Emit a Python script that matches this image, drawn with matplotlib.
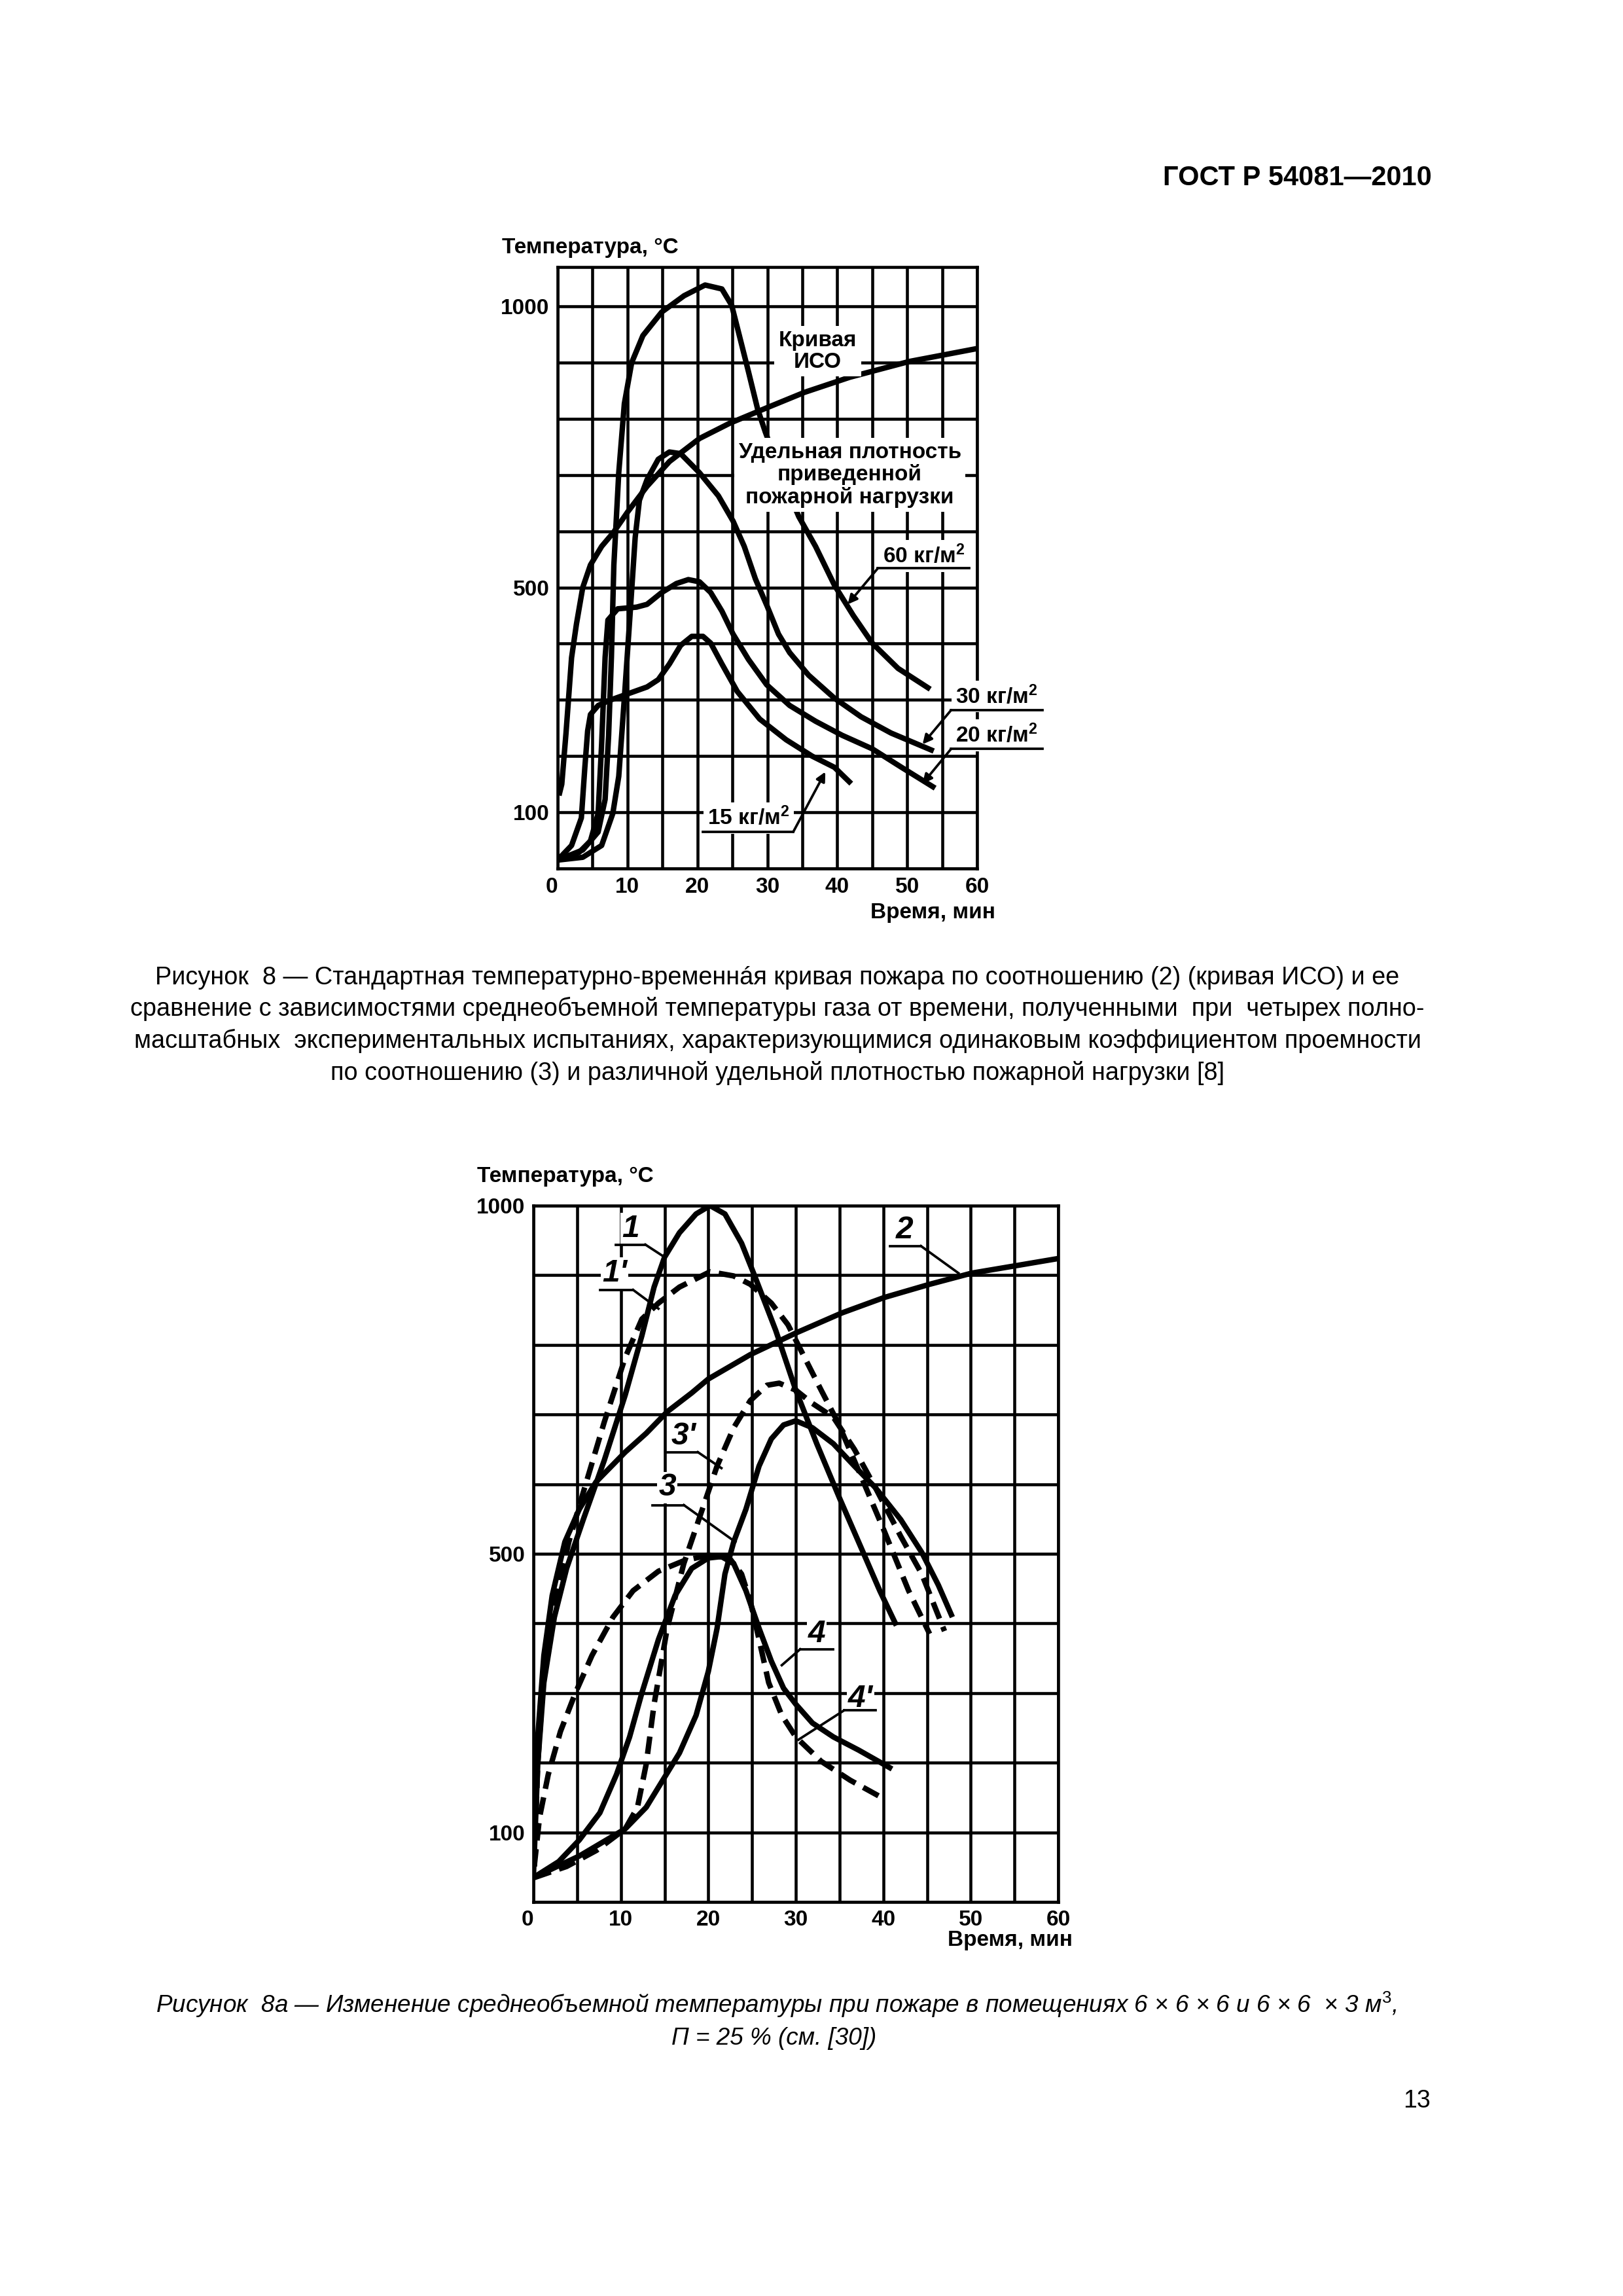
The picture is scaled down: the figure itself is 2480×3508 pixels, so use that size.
"""Fire temperature curves, GOST R 54081-2010, page 13"""
import matplotlib.pyplot as plt
import numpy as np

plt.rcParams['font.family'] = ['Liberation Sans', 'DejaVu Sans']
plt.rcParams['mathtext.fontset'] = 'custom'
plt.rcParams['mathtext.rm'] = 'Liberation Sans'
plt.rcParams['mathtext.it'] = 'Liberation Sans:italic'
plt.rcParams['mathtext.bf'] = 'Liberation Sans:bold'

# ---- Figure 8 (top): ISO curve and four fire load densities ----
ISO_T_MIN = [0.2, 0.6, 1.2, 2.0, 2.7, 3.6, 4.7, 6.3, 8, 10, 12.8, 16, 20.3, 24.6, 30, 35.3, 41.8, 50.3, 60]
ISO_T_DEG = [130, 150, 240, 375, 435, 500, 540, 573, 598, 634, 680, 724, 765, 792, 820, 847, 874, 902, 925]

L60_MIN = [0, 3.6, 5.8, 6.8, 7.3, 7.7, 8.05, 8.75, 9.55, 10.6, 12.2, 14.9, 18.1, 21.1, 23.5, 24.9, 25.9,
           27.3, 28.6, 29.7, 32.0, 34.5, 36.9, 39.6, 42.3, 45, 48.7, 53.3]
L60_DEG = [15, 33, 65, 123, 237, 376, 540, 704, 827, 900, 948, 990, 1019, 1038, 1031, 1002, 953,
           884, 818, 777, 700, 626, 573, 504, 450, 401, 356, 319]

L30_MIN = [0, 3.6, 6.3, 7.9, 8.75, 9.55, 10.4, 11.1, 11.7, 12.8, 14.4, 16, 17.6, 20.3, 23, 25.1, 26.7,
           28.3, 30, 31.6, 33.2, 35.9, 39.6, 43.4, 47.7, 53.8]
L30_DEG = [15, 20, 41, 98, 164, 303, 458, 589, 655, 692, 728, 741, 738, 704, 663, 618, 573,
           515, 466, 417, 384, 344, 303, 270, 241, 209]

L20_MIN = [0, 3.1, 4.7, 5.8, 6.3, 6.8, 7.2, 8.6, 11.3, 12.8, 14.9, 17, 18.7, 20.3, 21.9, 23.5, 25.1,
           27.3, 29.9, 33.2, 36.9, 40.7, 45, 49.2, 54]
L20_DEG = [15, 29, 49, 98, 221, 376, 442, 462, 465, 470, 491, 507, 514, 510, 491, 458, 417,
           372, 327, 290, 262, 237, 213, 180, 143]

L15_MIN = [0, 2.0, 3.4, 3.9, 4.3, 4.7, 5.8, 7.4, 10.1, 12.8, 14.4, 16, 17.6, 19.2, 20.8, 21.9, 23.5,
           25.7, 28.9, 32.7, 36.4, 39.6, 42]
L15_DEG = [15, 41, 90, 180, 245, 274, 290, 299, 311, 323, 336, 364, 397, 413, 413, 401, 364,
           315, 266, 229, 200, 180, 151]

# ---- Figure 8a (bottom): room fires ----
C2_MIN = [0.1, 0.5, 1.2, 2.15, 3.6, 5.25, 7.15, 10.5, 12.9, 15.3, 18.1, 20, 24.8, 30, 35.3, 40.1, 45.3, 50.1, 55.3, 60]
C2_DEG = [89, 237, 354, 440, 517, 564, 603, 646, 673, 704, 731, 751, 786, 817, 846, 868, 887, 903, 914, 924]

C1_MIN = [0, 0.5, 1.2, 2.4, 3.8, 5.7, 8.1, 10.5, 12.4, 13.8, 15, 16.7, 18.6, 20.2, 21.9, 23.8, 25.3,
          27.7, 30, 32.4, 35, 37.7, 39.6, 41.5]
C1_DEG = [35, 198, 315, 409, 479, 549, 634, 728, 813, 883, 926, 961, 988, 1000, 988, 946, 899,
          821, 735, 658, 580, 502, 447, 397]

C1D_MIN = [0.1, 0.5, 1.2, 2.4, 4.05, 5.7, 8.1, 10.5, 12.4, 14.3, 16.7, 20.2, 22.9, 24.8, 27.2, 29.1,
           31, 32.9, 34.8, 37.2, 40.1, 42.9, 45.3]
C1D_DEG = [51, 198, 331, 424, 517, 588, 689, 782, 837, 860, 883, 905, 899, 887, 860, 829,
           782, 735, 689, 619, 533, 447, 385]

C3D_MIN = [0.1, 3.8, 7.2, 10.5, 11.9, 12.9, 13.8, 15.3, 17.2, 19.1, 21, 22.9, 24.8, 26.7, 28.1, 30,
           31.9, 34.3, 36.7, 39.1, 42, 44.4, 47]
C3D_DEG = [35, 51, 74, 105, 136, 198, 284, 393, 486, 556, 626, 681, 720, 742, 745, 735,
           716, 696, 650, 595, 525, 471, 389]

C3_MIN = [0, 5.25, 10.5, 12.9, 14.8, 16.7, 18.6, 20, 21, 21.9, 22.9, 24.3, 25.8, 27.2, 28.6, 30,
          31.9, 34.3, 36.7, 39.1, 42, 44.4, 46.3, 47.9]
C3_DEG = [35, 66, 105, 136, 175, 214, 268, 331, 393, 471, 517, 564, 626, 665, 685, 691,
          681, 658, 626, 595, 549, 502, 455, 409]

C4_MIN = [0, 2.9, 5.25, 7.6, 9.5, 11, 12.4, 14.3, 16.2, 18.1, 20, 21.5, 22.9, 24.3, 25.8, 27.2,
          28.6, 30, 31.9, 34.3, 37.2, 41]
C4_DEG = [35, 58, 89, 128, 183, 237, 300, 377, 440, 479, 494, 496, 486, 447, 393, 346,
          307, 284, 257, 237, 218, 191]

C4D_MIN = [0.1, 0.7, 1.7, 3.1, 4.8, 6.7, 9.1, 11.4, 14.3, 17.2, 20, 22.4, 23.8, 24.8, 25.8, 26.9,
           28.4, 30, 32.9, 36.2, 40.1]
C4D_DEG = [51, 121, 183, 245, 300, 354, 409, 447, 475, 490, 498, 494, 471, 432, 377, 315,
           268, 237, 202, 175, 148]

X_TICKS = list(range(0, 61, 5))
Y_TICKS = list(range(0, 1001, 100))
Y_LABELED = {100: '100', 500: '500', 1000: '1000'}

W, H = 2480, 3508
fig = plt.figure(figsize=(W / 300, H / 300), dpi=300)


def px(x, y):
    return x / W, 1 - y / H


def make_axes(x0, y0, x1, y1, ymax):
    ax = fig.add_axes([x0 / W, 1 - y1 / H, (x1 - x0) / W, (y1 - y0) / H])
    ax.set_xlim(0, 60)
    ax.set_ylim(0, ymax)
    ax.set_xticks(X_TICKS)
    ax.set_xticklabels([str(v) if v % 10 == 0 else '' for v in X_TICKS], fontweight='bold')
    ax.set_yticks(Y_TICKS)
    ax.set_yticklabels([Y_LABELED.get(v, '') for v in Y_TICKS], fontweight='bold')
    ax.get_xticklabels()[0].set_ha('right')
    ax.tick_params(length=0, labelsize=8, pad=3)
    ax.grid(True, color='black', lw=1.1)
    ax.set_axisbelow(True)
    for s in ax.spines.values():
        s.set_linewidth(1.1)
    return ax


BOX = dict(facecolor='white', edgecolor='none', pad=1.5)
CURVE_LW = 2.0

# ---------------- top chart ----------------
ax1 = make_axes(852, 408, 1493, 1327, 1070)
for t, v in [(ISO_T_MIN, ISO_T_DEG), (L60_MIN, L60_DEG), (L30_MIN, L30_DEG),
             (L20_MIN, L20_DEG), (L15_MIN, L15_DEG)]:
    ax1.plot(t, v, color='black', lw=CURVE_LW, solid_capstyle='butt', zorder=3)

ax1.text(37.2, 920, 'Кривая\nИСО', ha='center', va='center', fontsize=8, fontweight='bold',
         linespacing=1.1, bbox=BOX, zorder=5)
ax1.text(41.8, 700, 'Удельная плотность\nприведенной\nпожарной нагрузки', ha='center',
         va='center', fontsize=8, fontweight='bold', linespacing=1.1, bbox=BOX, zorder=5)

load_labels = [
    ('60 кг/м$^\\mathbf{2}$', 52.4, 556, 45.8, 58.9, 534, 41.5, 470),
    ('30 кг/м$^\\mathbf{2}$', 62.8, 306, 56.3, 69.4, 282, 52.2, 221),
    ('20 кг/м$^\\mathbf{2}$', 62.8, 237, 56.3, 69.4, 213, 52.2, 151),
]
for txt, tx, ty, u0, u1, uy, ax_, ay_ in load_labels:
    ax1.text(tx, ty, txt, ha='center', va='center', fontsize=8, fontweight='bold',
             clip_on=False, bbox=BOX, zorder=5)
    ax1.plot([u0, u1], [uy, uy], color='black', lw=0.9, clip_on=False, zorder=5)
    ax1.annotate('', xy=(ax_, ay_), xytext=(u0, uy), annotation_clip=False,
                 arrowprops=dict(arrowstyle='-|>', color='black', lw=0.9,
                                 mutation_scale=7, shrinkA=0, shrinkB=0), zorder=5)
ax1.text(27.3, 90, '15 кг/м$^\\mathbf{2}$', ha='center', va='center', fontsize=8,
         fontweight='bold', bbox=BOX, zorder=5)
ax1.plot([20.8, 33.7], [65, 65], color='black', lw=0.9, zorder=5)
ax1.annotate('', xy=(38.3, 172), xytext=(33.7, 65),
             arrowprops=dict(arrowstyle='-|>', color='black', lw=0.9,
                             mutation_scale=7, shrinkA=0, shrinkB=0), zorder=5)

fig.text(*px(767, 378), 'Температура, °С', ha='left', va='center', fontsize=8, fontweight='bold')
fig.text(*px(1521, 1394), 'Время, мин', ha='right', va='center', fontsize=8, fontweight='bold')

# ---------------- bottom chart ----------------
ax2 = make_axes(815, 1842, 1617, 2906, 1000)
solid = [(C2_MIN, C2_DEG), (C1_MIN, C1_DEG), (C3_MIN, C3_DEG), (C4_MIN, C4_DEG)]
dashed = [(C1D_MIN, C1D_DEG), (C3D_MIN, C3D_DEG), (C4D_MIN, C4D_DEG)]
for t, v in solid:
    ax2.plot(t, v, color='black', lw=CURVE_LW, solid_capstyle='butt', zorder=3)
for t, v in dashed:
    ax2.plot(t, v, color='black', lw=CURVE_LW, ls=(0, (3.2, 1.6)), dash_capstyle='butt', zorder=3)

curve_labels = [
    ('1', 11.1, 967, 9.4, 12.8, 944, 15.0, 926),
    ("1'", 9.3, 903, 7.6, 11.4, 879, 14.3, 852),
    ('2', 42.4, 965, 40.8, 44.3, 942, 48.6, 903),
    ("3'", 17.2, 669, 15.3, 18.8, 646, 21.5, 623),
    ('3', 15.3, 595, 13.6, 17.2, 570, 23.1, 517),
    ('4', 32.4, 385, 30.5, 34.3, 363, 28.4, 340),
    ("4'", 37.4, 292, 35.5, 39.1, 275, 30.3, 233),
]
for txt, tx, ty, u0, u1, uy, lx, ly in curve_labels:
    ax2.text(tx, ty, txt, ha='center', va='center', fontsize=11.5, style='italic',
             fontweight='bold', bbox=dict(facecolor='white', edgecolor='none', pad=0.5), zorder=5)
    ax2.plot([u0, u1], [uy, uy], color='black', lw=0.9, zorder=5)
    start = u1 if lx > u1 else u0
    ax2.plot([start, lx], [uy, ly], color='black', lw=0.9, zorder=5)

fig.text(*px(729, 1798), 'Температура, °С', ha='left', va='center', fontsize=8, fontweight='bold')
fig.text(*px(1639, 2965), 'Время, мин', ha='right', va='center', fontsize=8, fontweight='bold')

# ---------------- page texts ----------------
fig.text(*px(2188, 272), 'ГОСТ Р 54081—2010', ha='right', va='center', fontsize=10,
         fontweight='bold')

caption8 = [
    'Рисунок  8 — Стандартная температурно-временнáя кривая пожара по соотношению (2) (кривая ИСО) и ее',
    'сравнение с зависимостями среднеобъемной температуры газа от времени, полученными  при  четырех полно-',
    'масштабных  экспериментальных испытаниях, характеризующимися одинаковым коэффициентом проемности',
    'по соотношению (3) и различной удельной плотностью пожарной нагрузки [8]',
]
for line, y in zip(caption8, [1494, 1541, 1590, 1639]):
    fig.text(*px(1188, y), line, ha='center', va='center', fontsize=9.1)

fig.text(*px(1186, 3063),
         'Рисунок  8а — Изменение среднеобъемной температуры при пожаре в помещениях '
         '6 × 6 × 6 и 6 × 6  × 3 м$^{\\mathit{3}}$,',
         ha='center', va='center', fontsize=8.85, style='italic')
fig.text(*px(1183, 3115), 'П = 25 % (см. [30])', ha='center', va='center', fontsize=8.85,
         style='italic')
fig.text(*px(2165, 3210), '13', ha='center', va='center', fontsize=9)

fig.savefig('out.png', dpi=300)
print('Saved out.png')
